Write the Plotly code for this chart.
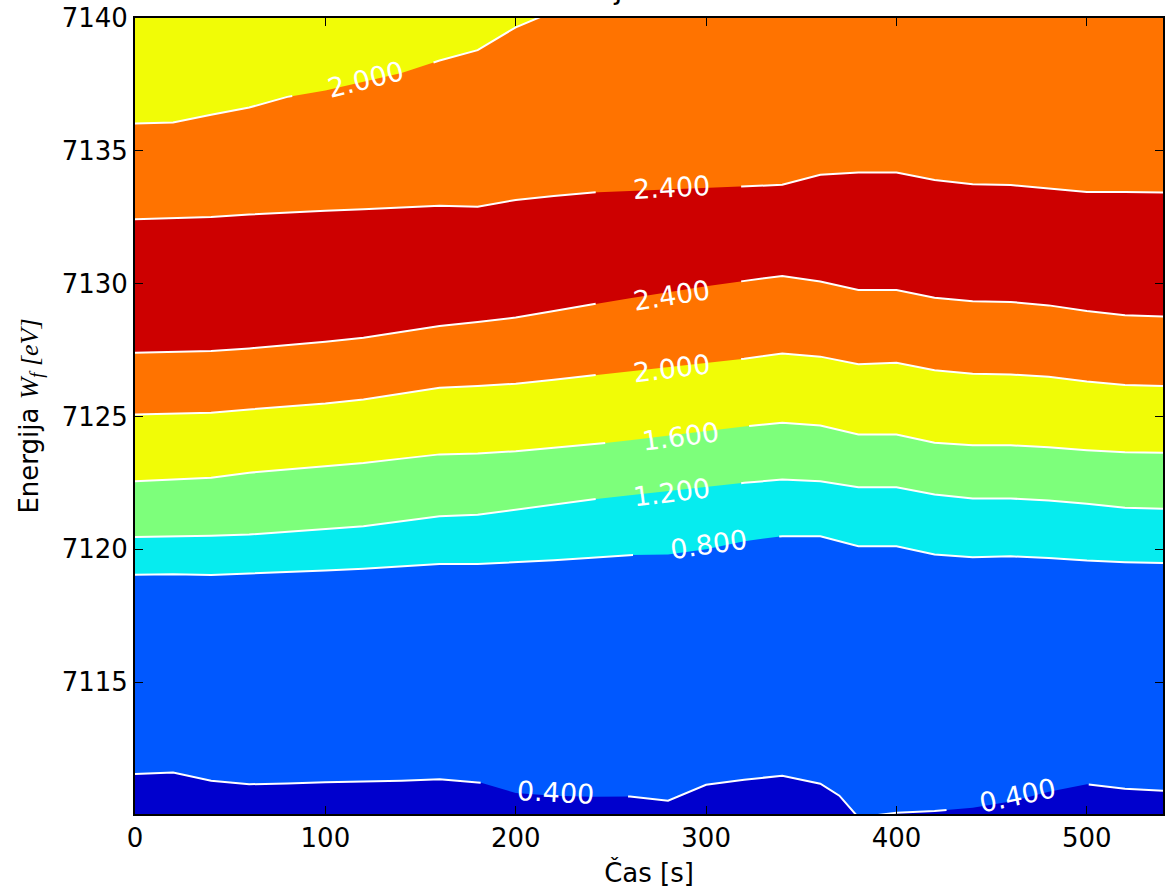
import numpy as np
import plotly.graph_objects as go

# ---------------- data ----------------
# time points of the measurements [s]
time_s = [0, 20, 40, 60, 80, 100, 120, 140, 160, 180, 200, 220, 240, 260,
          280, 300, 320, 340, 360, 380, 400, 420, 440, 460, 480, 500, 520, 540]

# contour levels of the absorption
levels = [0.4, 0.8, 1.2, 1.6, 2.0, 2.4]

# energy [eV] at which each contour level is crossed, per time point
time_s_040 = [0, 20, 40, 60, 80, 100, 120, 140, 160, 180, 200, 220, 240, 260,
              280, 300, 320, 340, 360, 370, 380, 400, 420, 440, 460, 480, 500, 520, 540]
e_level_040 = [7111.54, 7111.59, 7111.28, 7111.15, 7111.18, 7111.23, 7111.25, 7111.28,
               7111.34, 7111.24, 7110.82, 7110.72, 7110.68, 7110.69, 7110.53, 7111.13,
               7111.32, 7111.47, 7111.17, 7110.72, 7109.90, 7110.08, 7110.14, 7110.27,
               7110.50, 7110.87, 7111.15, 7110.98, 7110.91]

e_level_080 = [7119.04, 7119.06, 7119.03, 7119.08, 7119.14, 7119.20, 7119.26, 7119.35,
               7119.44, 7119.44, 7119.51, 7119.58, 7119.68, 7119.78, 7119.80, 7120.00,
               7120.30, 7120.49, 7120.49, 7120.11, 7120.11, 7119.80, 7119.70, 7119.73,
               7119.67, 7119.57, 7119.51, 7119.48]

e_level_120 = [7120.46, 7120.48, 7120.51, 7120.55, 7120.66, 7120.77, 7120.86, 7121.05,
               7121.24, 7121.30, 7121.49, 7121.68, 7121.87, 7122.03, 7122.19, 7122.34,
               7122.50, 7122.62, 7122.56, 7122.33, 7122.33, 7122.06, 7121.91, 7121.91,
               7121.83, 7121.71, 7121.56, 7121.52]

e_level_160 = [7122.56, 7122.62, 7122.69, 7122.88, 7123.00, 7123.13, 7123.25, 7123.41,
               7123.57, 7123.60, 7123.69, 7123.82, 7123.94, 7124.10, 7124.27, 7124.45,
               7124.62, 7124.76, 7124.66, 7124.32, 7124.32, 7124.01, 7123.91, 7123.91,
               7123.84, 7123.73, 7123.65, 7123.63]

e_level_200 = [7125.07, 7125.10, 7125.14, 7125.26, 7125.38, 7125.49, 7125.64, 7125.86,
               7126.08, 7126.14, 7126.23, 7126.38, 7126.54, 7126.70, 7126.85, 7127.01,
               7127.17, 7127.37, 7127.25, 7126.96, 7127.02, 7126.74, 7126.61, 7126.58,
               7126.49, 7126.31, 7126.18, 7126.14]

e_level_240_low = [7127.40, 7127.43, 7127.46, 7127.56, 7127.68, 7127.81, 7127.96, 7128.18,
                   7128.40, 7128.55, 7128.72, 7128.97, 7129.22, 7129.45, 7129.67, 7129.90,
                   7130.10, 7130.29, 7130.08, 7129.76, 7129.76, 7129.47, 7129.34, 7129.31,
                   7129.18, 7128.97, 7128.81, 7128.76]

e_level_240_high = [7132.42, 7132.46, 7132.51, 7132.60, 7132.68, 7132.74, 7132.80, 7132.87,
                    7132.93, 7132.89, 7133.15, 7133.30, 7133.43, 7133.49, 7133.55, 7133.60,
                    7133.66, 7133.72, 7134.10, 7134.18, 7134.18, 7133.90, 7133.74, 7133.71,
                    7133.58, 7133.45, 7133.45, 7133.43]

time_s_200_top = [0, 20, 40, 60, 80, 100, 120, 140, 160, 180, 200, 220]
e_level_200_top = [7136.03, 7136.07, 7136.36, 7136.63, 7137.03, 7137.27, 7137.60,
                   7137.93, 7138.40, 7138.79, 7139.65, 7140.25]

x_ticks = [0, 100, 200, 300, 400, 500]
y_ticks = [7115, 7120, 7125, 7130, 7135, 7140]

# ---------------- styles ----------------
X_RANGE = [0, 540]
Y_RANGE = [7110.03, 7140]
C_DARKBLUE = "#0000cd"
C_BLUE = "#0058ff"
C_CYAN = "#06ecef"
C_GREEN = "#7dff7b"
C_YELLOW = "#f1fc06"
C_ORANGE = "#ff7300"
C_RED = "#cd0000"
FONT = "DejaVu Sans"

fig = go.Figure()

# filled bands: each region from a contour line up to the top of the axis
bands = [
    (time_s_040, e_level_040, C_BLUE),
    (time_s, e_level_080, C_CYAN),
    (time_s, e_level_120, C_GREEN),
    (time_s, e_level_160, C_YELLOW),
    (time_s, e_level_200, C_ORANGE),
    (time_s, e_level_240_low, C_RED),
    (time_s, e_level_240_high, C_ORANGE),
    (time_s_200_top, e_level_200_top, C_YELLOW),
]
top = Y_RANGE[1]
for t, e, col in bands:
    xs = list(t) + [t[-1], t[0]]
    ys = list(e) + [top, top]
    fig.add_trace(go.Scatter(x=xs, y=ys, mode="lines", fill="toself",
                             fillcolor=col, line=dict(width=0, color=col),
                             hoverinfo="skip"))


def split_at_gap(t, e, gap):
    """Split one polyline into two pieces leaving out the label gap."""
    t = np.asarray(t, float)
    e = np.asarray(e, float)
    g0, g1 = gap
    e0 = float(np.interp(g0, t, e))
    e1 = float(np.interp(g1, t, e))
    left_t = [ti for ti in t if ti < g0] + [g0]
    left_e = [ei for ti, ei in zip(t, e) if ti < g0] + [e0]
    right_t = [g1] + [ti for ti in t if ti > g1]
    right_e = [e1] + [ei for ti, ei in zip(t, e) if ti > g1]
    return (left_t, left_e), (right_t, right_e)


# contour lines with label gaps: (times, energies, list of gaps in time)
contour_lines = [
    (time_s_040, e_level_040, [(181.6, 259.0), (426.3, 501.0)]),
    (time_s, e_level_080, [(261.6, 338.4)]),
    (time_s, e_level_120, [(242.0, 318.4)]),
    (time_s, e_level_160, [(247.0, 322.6)]),
    (time_s, e_level_200, [(242.0, 318.4)]),
    (time_s, e_level_240_low, [(242.0, 318.4)]),
    (time_s, e_level_240_high, [(242.0, 318.4)]),
    (time_s_200_top, e_level_200_top, [(82.6, 156.8)]),
]
for t, e, gaps in contour_lines:
    pieces = [(list(t), list(e))]
    for gap in gaps:
        new = []
        for pt, pe in pieces:
            if pt[0] < gap[0] and pt[-1] > gap[1]:
                new.extend(split_at_gap(pt, pe, gap))
            else:
                new.append((pt, pe))
        pieces = new
    xs, ys = [], []
    for i, (pt, pe) in enumerate(pieces):
        if i:
            xs.append(None); ys.append(None)
        xs += list(pt); ys += list(pe)
    fig.add_trace(go.Scatter(x=xs, y=ys, mode="lines",
                             line=dict(color="white", width=2),
                             hoverinfo="skip"))

# contour labels: (level, time, energy, angle)
label_specs = [
    (levels[0], 221, 7110.84, 3),
    (levels[0], 463.7, 7110.71, -12),
    (levels[1], 301, 7120.17, -8),
    (levels[2], 281.6, 7122.13, -7),
    (levels[3], 286.8, 7124.24, -7),
    (levels[4], 281.6, 7126.81, -7),
    (levels[5], 281.6, 7129.56, -9),
    (levels[5], 281.6, 7133.63, -3),
    (levels[4], 121, 7137.70, -14),
]
for lv, tx, ey, ang in label_specs:
    fig.add_annotation(x=tx, y=ey, xref="x", yref="y", text=f"{lv:.3f}",
                       showarrow=False, textangle=ang,
                       font=dict(family=FONT, size=27, color="white"))

# title (lies almost entirely above the visible page, as in the reference)
fig.add_annotation(x=0.518, y=1.0, xref="paper", yref="paper", yshift=10,
                   text="Evolucija XANES roba", showarrow=False,
                   xanchor="center", yanchor="bottom",
                   font=dict(family=FONT, size=30, color="black"))

axis_common = dict(showgrid=False, zeroline=False, showline=True, linecolor="black",
                   linewidth=2, mirror="ticks", ticks="inside", ticklen=8,
                   tickwidth=1, tickcolor="black",
                   tickfont=dict(family=FONT, size=26, color="black"))

fig.update_xaxes(range=X_RANGE, tickvals=x_ticks, ticktext=[str(v) for v in x_ticks],
                 title=dict(text="Čas [s]", font=dict(family=FONT, size=26),
                            standoff=12),
                 **axis_common)
fig.update_yaxes(range=Y_RANGE, tickvals=y_ticks, ticktext=[str(v) for v in y_ticks],
                 title=dict(text="Energija <span style='font-family:Liberation Serif'>"
                                 "<i>W</i><sub><i>f</i></sub> <i>[eV]</i></span>",
                            font=dict(family=FONT, size=26), standoff=16),
                 **axis_common)

fig.update_layout(width=1171, height=894,
                  margin=dict(l=135, r=8, t=18, b=80, autoexpand=False),
                  plot_bgcolor=C_DARKBLUE, paper_bgcolor="white",
                  showlegend=False, font=dict(family=FONT, size=26, color="black"))

fig.write_html("out.html")
